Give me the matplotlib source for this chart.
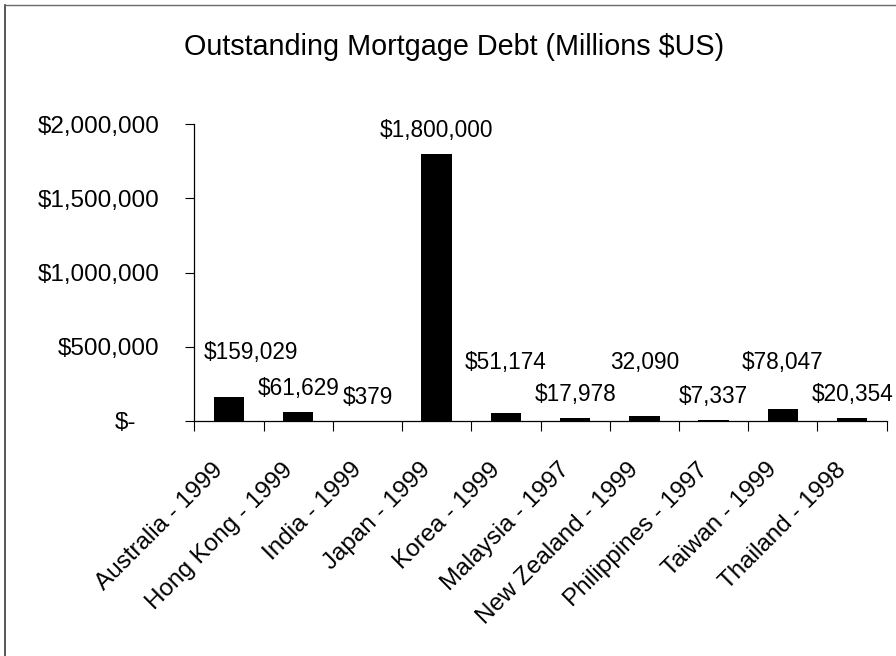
import matplotlib
matplotlib.use("Agg")
import matplotlib.pyplot as plt
from matplotlib.lines import Line2D
from matplotlib.ticker import FuncFormatter
from matplotlib.transforms import ScaledTranslation

# outstanding mortgage debt, millions of US dollars
countries = ["Australia - 1999", "Hong Kong - 1999", "India - 1999", "Japan - 1999",
             "Korea - 1999", "Malaysia - 1997", "New Zealand - 1999",
             "Philippines - 1997", "Taiwan - 1999", "Thailand - 1998"]
debt = [159029, 61629, 379, 1800000, 51174, 17978, 32090, 7337, 78047, 20354]
currency = ["$", "$", "$", "$", "$", "$", "", "$", "$", "$"]
y_ticks = [0, 500000, 1000000, 1500000, 2000000]

plt.rcParams["font.family"] = ["Liberation Sans", "DejaVu Sans"]

W, H = 896, 656
fig = plt.figure(figsize=(W / 100, H / 100), dpi=100)
ax = fig.add_axes([194.3 / W, 235.3 / H, 692.4 / W, 296.4 / H])

x = list(range(len(countries)))
ax.bar(x, debt, width=0.44, color="black", zorder=3)

ax.set_xlim(-0.5, len(countries) - 0.5)
ax.set_ylim(0, 2000000)

# value labels, a few of them dragged up/right by hand (pixels)
nudge = {0: (22.5, 21), 4: (0, 27), 6: (0, 30), 8: (0, 23)}
for i, v in enumerate(debt):
    dx, dy = nudge.get(i, (0, 0))
    ax.annotate(f"{currency[i]}{v:,}", xy=(i, v),
                xytext=(dx * 0.72, (17 + dy) * 0.72), textcoords="offset points",
                ha="center", va="baseline", fontsize=16.3)

# y axis in accounting style
def money(v, pos):
    if v == 0:
        return "$-"
    return f"${v:,.0f}"

ax.set_yticks(y_ticks)
ax.yaxis.set_major_formatter(FuncFormatter(money))
ax.tick_params(axis="y", direction="out", length=6.5, width=0.8, pad=18.5,
               labelsize=17.5)
zero_lbl = ax.yaxis.get_major_ticks()[0].label1
zero_lbl.set_transform(zero_lbl.get_transform()
                       + ScaledTranslation(-0.236, 0, fig.dpi_scale_trans))

# category boundaries get the tick marks, centres get the labels
ax.set_xticks([i - 0.5 for i in range(len(countries) + 1)])
ax.set_xticklabels([])
ax.set_xticks(x, minor=True)
ax.set_xticklabels(countries, minor=True, rotation=45, ha="right", va="center",
                   rotation_mode="anchor", fontsize=17.5)
ax.tick_params(axis="x", which="major", direction="out", length=7.2, width=0.8)
ax.tick_params(axis="x", which="minor", length=0, pad=33)
for lbl in ax.get_xticklabels(minor=True):
    lbl.set_transform(lbl.get_transform()
                      + ScaledTranslation(-0.09, 0, fig.dpi_scale_trans))

for side in ["top", "right"]:
    ax.spines[side].set_visible(False)
for side in ["left", "bottom"]:
    ax.spines[side].set_linewidth(0.9)
    ax.spines[side].set_color("black")

fig.text(454 / W, 1 - 55 / H, "Outstanding Mortgage Debt (Millions $US)",
         ha="center", va="baseline", fontsize=20.7)

# chart frame (only its left and top edges fall inside the image)
fig.add_artist(Line2D([5 / W, 5 / W], [0, 1 - 5 / H], transform=fig.transFigure,
                      color="#3a3a3a", lw=1.2))
fig.add_artist(Line2D([5 / W, 1], [1 - 5 / H, 1 - 5 / H], transform=fig.transFigure,
                      color="#6a6a6a", lw=1.0))

fig.savefig("out.png", dpi=100)
